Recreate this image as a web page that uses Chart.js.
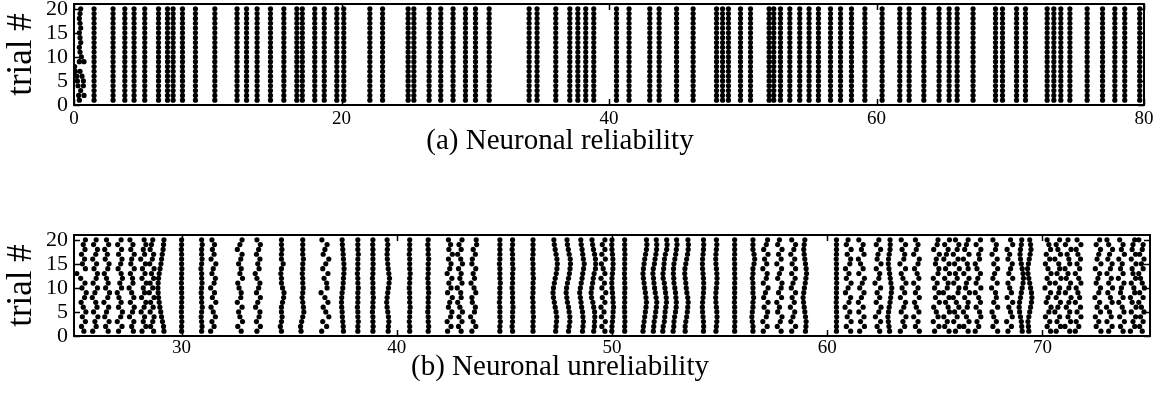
<!DOCTYPE html>
<html>
<head>
<meta charset="utf-8">
<script src="https://cdn.jsdelivr.net/npm/chart.js@4.4.1/dist/chart.umd.min.js"></script>
<style>
  html, body { margin: 0; padding: 0; background: #fff; }
  body { width: 1164px; height: 402px; position: relative; overflow: hidden; }
  canvas { position: absolute; left: 0; }
  #rasterA { top: 0; }
  #rasterB { top: 231px; }
  .caption { position: absolute; left: 0; width: 1120px; text-align: center; font-family: "Liberation Serif", serif; font-size: 29px; line-height: 1; color: #000; }
</style>
</head>
<body>
<canvas id="rasterA" width="1164" height="165"></canvas>
<canvas id="rasterB" width="1164" height="165"></canvas>
<div class="caption" style="top:125px">(a) Neuronal reliability</div>
<div class="caption" style="top:351px">(b) Neuronal unreliability</div>
<script>
const trials = [1, 2, 3, 4, 5, 6, 7, 8, 9, 10, 11, 12, 13, 14, 15, 16, 17, 18, 19, 20];
const trialTicks = [0, 5, 10, 15, 20];
const xTicksA = [0, 20, 40, 60, 80];
const xTicksB = [30, 40, 50, 60, 70];

// (a) spike times shared by every trial
const reliableTimes = [1.50, 2.92, 3.80, 4.49, 5.29, 6.32, 6.99, 7.41, 8.11, 9.08, 10.53, 12.19, 12.90,
  13.69, 14.69, 15.69, 16.66, 17.07, 18.00, 18.71, 19.65, 20.17, 22.12, 23.07, 24.98, 25.41, 26.55,
  27.42, 28.34, 29.27, 30.02, 31.04, 34.03, 34.62, 36.02, 37.07, 37.67, 38.26, 38.86, 40.56, 41.50,
  43.05, 43.75, 45.05, 46.29, 48.04, 48.49, 48.93, 49.83, 50.58, 51.97, 52.32, 52.82, 53.52, 54.26,
  54.96, 55.66, 56.56, 57.31, 58.13, 59.13, 60.42, 61.74, 62.44, 63.54, 64.68, 65.43, 66.03, 67.22,
  68.90, 69.42, 70.47, 71.14, 72.76, 73.26, 73.78, 74.46, 75.75, 76.90, 77.82, 78.56, 79.68];
// (a) first spike of each trial (trial 1..20), still scattered on the early trials
const onsetTimes = [0.40, 0.35, 0.50, 0.30, 0.25, 0.60, 0.45, 0.05, 0.40, 0.55,
  0.45, 0.40, 0.50, 0.45, 0.40, 0.50, 0.45, 0.40, 0.45, 0.50];
const onsetExtra = [null, 0.75, null, 0.70, 0.70, 0.20, 0.10, null, 0.75, null,
  null, null, null, null, null, null, null, null, null, null];

// (b) spike columns: centre time, then the shift of each trial (1..20) in 1/100 time units
const unreliableCenters = [25.43, 25.97, 26.51, 27.13, 27.68, 28.22, 28.6, 29.14, 30.0, 30.93, 31.47,
  32.71, 33.54, 34.64, 35.63, 36.66, 37.49, 38.19, 38.89, 39.58, 40.6, 41.46, 42.46, 42.93, 43.55,
  44.79, 45.38, 46.33, 47.34, 47.96, 48.58, 49.12, 49.59, 50.02, 50.59, 51.52, 51.99, 52.45, 52.92,
  53.46, 54.23, 54.85, 55.7, 56.55, 57.13, 57.78, 58.41, 58.96, 60.43, 60.97, 61.59, 62.36, 62.9,
  63.52, 64.14, 65.07, 65.54, 66.0, 66.47, 67.0, 67.78, 68.48, 69.02, 69.41, 70.26, 70.72, 71.19,
  71.65, 72.58, 73.12, 73.67, 74.21, 74.6];
const unreliableShifts = [
  [3, -8, 10, -4, 12, 0, -10, 6, 14, -6, 8, -12, -30, 10, -4, 6, -8, 8, 0, 10],
  [-10, 6, 0, 14, -6, 10, 4, -12, 0, 12, -8, 6, 12, -4, 8, -10, 4, 12, -6, 6],
  [8, -4, 12, -8, 0, 10, -12, 6, 14, -4, 8, 0, -10, 6, 12, -6, 4, -8, 10, 0],
  [-6, 10, -12, 4, 12, -6, 6, -4, -12, 8, 0, 12, 6, -8, 4, 10, -6, 8, -10, 6],
  [8, 0, 10, -10, 4, 12, -6, 10, 0, -12, 6, 4, -6, 12, -4, 0, 12, -4, 6, -8],
  [-6, 12, 0, 6, -10, 4, 12, -8, 6, 0, 14, -6, 8, -4, 10, -12, 6, 0, 12, 4],
  [10, -4, 6, 12, -6, 8, -4, 12, -10, 6, -6, 10, 0, 12, -8, 4, 10, -6, 0, 6],
  [4, 2, -3, -7, -11, -15, -18, -21, -23, -24, -23, -21, -18, -14, -10, -7, -4, 0, 2, 4],
  [0, 0, 1, 0, -1, 0, 0, 1, 0, 0, -1, 0, 0, 1, 0, 0, 0, -1, 0, 0],
  [0, 2, 0, -2, 0, 3, 0, 0, -2, 0, 2, 0, 0, -3, 0, 2, 0, 0, 3, 0],
  [-12, 4, -6, 10, 0, -10, 12, -4, 6, -12, 4, 10, -6, 0, 12, -10, 4, -4, 6, -6],
  [6, -10, 12, 0, -6, 10, -12, 4, 6, -4, -10, 12, 0, 6, -6, 4, 10, -12, 0, 10],
  [-4, 12, -6, 6, 10, -10, 0, 12, -6, 4, 10, -4, -12, 6, 0, 10, -6, 4, 12, -4],
  [0, -5, 0, 3, 0, 0, 5, 10, 12, 5, 0, 0, -3, 0, 8, 0, 0, 2, 0, 0],
  [-8, -10, -5, 0, 5, 3, 0, -3, 0, 2, 0, 0, -2, 0, 0, 3, 0, 0, 0, 0],
  [-15, 8, -10, 18, 4, -8, 14, 0, -18, 10, 8, -4, 14, -10, 4, 18, -8, 0, 10, -14],
  [3, 2, 0, -2, -3, -5, -6, -5, -3, 0, 2, 3, 5, 6, 5, 3, 2, 0, -2, -3],
  [0, 0, 2, 0, 0, -2, 0, 0, 0, 2, 0, 0, -2, 0, 0, 0, 2, 0, 0, 0],
  [0, 1, 0, 0, -2, 0, 0, 2, 0, 0, 0, -2, 0, 0, 1, 0, 0, 0, -1, 0],
  [2, 3, 5, 3, 0, -3, -5, -3, 0, 3, 6, 8, 5, 2, 0, -2, -3, -2, 0, -3],
  [0, 0, -2, 0, 0, 2, 0, 0, 0, -2, 0, 0, 2, 0, 0, 0, -2, 0, 0, 0],
  [0, 2, 0, 0, -2, 0, 0, 0, 2, 0, 0, -2, 0, 0, 0, 2, 0, 0, -2, 0],
  [-10, 6, -12, 4, 10, -6, 0, 12, -10, 6, -4, 10, -12, 0, 6, -6, 12, -4, 4, -6],
  [6, -6, 10, -4, 12, 0, -10, 6, 4, -12, 10, 0, 6, -6, 12, 4, -10, 6, -4, 10],
  [-6, 12, 0, -12, 6, 10, -4, -6, 12, 4, -10, 6, 0, 12, -6, -4, 10, 0, 16, 14],
  [0, 0, 2, 0, 0, 0, -2, 0, 0, 0, 2, 0, 0, 0, -2, 0, 0, 0, 0, 0],
  [0, -2, 0, 0, 0, 2, 0, 0, 0, -2, 0, 0, 0, 2, 0, 0, 0, -2, 0, 0],
  [0, 0, 0, 2, 0, 0, 0, -2, 0, 0, 0, 2, 0, 0, 0, -2, 0, 0, 0, 0],
  [4, 6, 8, 9, 6, 2, -2, -6, -8, -6, -2, 2, 7, 10, 12, 10, 6, 2, -2, -4],
  [2, 5, 8, 8, 5, 2, -3, -6, -9, -7, -3, 2, 6, 9, 11, 10, 5, 1, -3, -5],
  [5, 7, 9, 7, 5, 1, -2, -5, -8, -5, -1, 3, 6, 10, 13, 9, 6, 3, -1, -3],
  [3, 6, 7, 8, 7, 3, -1, -7, -9, -6, -2, 1, 5, 11, 12, 11, 7, 2, -2, -5],
  [8, -6, 10, -8, 4, -10, 8, -4, 12, -6, 6, -10, 8, 0, -8, 10, -6, 8, -4, 8],
  [-3, -2, 0, 2, 3, 5, 3, 2, 0, -2, -3, -2, 0, 2, 3, 2, 0, -2, -3, -2],
  [0, 0, 1, 0, 0, -1, 0, 0, 0, 1, 0, 0, -1, 0, 0, 0, 1, 0, 0, 0],
  [-8, -6, -3, 0, 3, 6, 8, 6, 3, 0, -3, -6, -8, -6, -3, 0, 4, 8, 10, 8],
  [-7, -5, -3, 1, 4, 7, 9, 6, 2, -1, -4, -6, -9, -7, -2, 1, 5, 8, 9, 7],
  [-9, -7, -2, 0, 2, 5, 8, 7, 4, 1, -2, -7, -8, -5, -3, -1, 3, 9, 11, 9],
  [-8, -5, -4, -1, 3, 6, 7, 5, 3, 0, -4, -5, -7, -6, -4, 0, 4, 7, 10, 8],
  [-6, -6, -3, 1, 4, 6, 8, 6, 2, -1, -3, -6, -8, -7, -3, 1, 5, 8, 9, 7],
  [2, 3, 2, 0, -2, -3, -2, 0, 2, 3, 3, 2, 0, -2, -3, -2, 0, 2, 3, 2],
  [-2, 0, 2, 3, 2, 0, -2, -3, -2, 0, 2, 3, 2, 0, -2, -3, -2, 0, 2, 0],
  [0, 0, 1, 0, 0, 0, -1, 0, 0, 0, 0, 1, 0, 0, 0, -1, 0, 0, 0, 0],
  [0, 0, -3, -5, -3, 0, 0, 3, 0, 0, 0, -3, 0, 0, 5, 8, 5, 0, 0, 0],
  [-10, 8, -12, 4, 10, -6, 12, -8, 0, 12, -10, 4, 8, -12, 6, -4, 12, -8, 4, 10],
  [8, -10, 4, 12, -8, 0, -12, 10, -4, 8, 12, -8, 0, 10, -12, 8, -4, 12, -8, 0],
  [-6, 12, -10, 0, 8, -12, 6, -4, 12, -8, 0, 10, -6, 12, -4, 8, -10, 4, 12, -6],
  [3, 5, 6, 3, 0, -3, -6, -8, -5, -2, 2, 5, 8, 6, 3, 0, -3, -5, -3, 0],
  [0, 0, 0, 1, 0, 0, -1, 0, 0, 0, 1, 0, 0, 0, 0, -1, 0, 0, 0, 0],
  [12, -8, 14, -4, 8, -14, 4, 12, -12, 0, 14, -8, 4, -12, 8, 12, -4, 14, -8, 0],
  [-8, 14, -4, 12, -12, 8, -14, 0, 12, -8, 4, 14, -12, 8, -4, -14, 12, 0, 8, -12],
  [8, -4, 12, -12, 4, 14, -8, 8, -4, 12, -14, 4, 8, -8, 14, -4, 0, 12, -8, 4],
  [0, -3, -6, -8, -5, -2, 2, 5, 8, 10, 6, 3, 0, -3, -6, -5, -2, 2, 3, 2],
  [-12, 8, 0, 14, -8, 4, 12, -12, 8, -4, 14, 0, -8, 12, -14, 4, 8, -4, 12, -8],
  [14, -4, 8, -12, 12, 0, -8, 14, -4, 8, -12, 12, 4, -8, 8, 14, -12, 0, 8, -4],
  [-8, 12, -14, 8, 0, -12, 14, -4, 12, -8, 4, -14, 8, 12, -4, 0, 14, -12, 4, 8],
  [12, -8, 4, -12, 14, 8, -4, 12, -14, 4, 8, -8, 14, -4, 12, -12, 0, 8, -8, 14],
  [-4, 14, -12, 4, -8, 12, 0, -14, 8, 12, -12, 4, -4, 14, -8, 8, -14, 4, 12, -4],
  [8, -12, 12, 0, -14, 4, 8, -8, 14, -4, 0, 12, -12, 8, 4, -14, 12, -8, 0, 8],
  [-12, 4, -4, 14, 8, -8, 12, 4, -12, 14, -8, 0, 12, -4, -12, 8, 4, 14, -8, 12],
  [14, -8, 8, -4, -12, 14, -4, 8, 4, -14, 12, -8, 0, 14, -4, 12, -12, 4, 8, -8],
  [-8, 8, -14, 12, 4, -4, 14, -12, 8, 0, -8, 14, -4, 4, 12, -8, 0, -12, 14, 4],
  [4, 2, 0, -4, -8, -10, -8, -4, 0, 4, 8, 10, 8, 4, 0, -4, -6, -4, 0, 2],
  [-4, -6, -8, -4, 0, 4, 8, 10, 8, 4, 0, -4, -8, -10, -6, -2, 2, 6, 4, 0],
  [12, -4, 8, -12, 4, 14, -8, 0, 12, -14, 8, -4, 14, 0, -12, 8, -8, 12, 4, -4],
  [-8, 12, -4, 8, -14, 0, 12, -8, 4, 8, -12, 14, -4, 8, 4, -14, 12, 0, -8, 8],
  [8, -14, 12, 0, 8, -8, 4, 14, -12, 4, 12, -8, 0, -14, 8, 4, -4, 14, -12, 0],
  [-12, 4, -8, 14, -4, 12, -12, 8, 0, -8, 14, 4, -12, 8, -4, 12, 0, -8, 14, -4],
  [14, -8, 4, -12, 12, -4, 8, -14, 4, 12, -8, 0, 8, -12, 14, -4, 4, 12, -8, 8],
  [-4, 12, -12, 8, 0, -14, 12, 4, -8, 14, -4, 8, -12, 4, 12, -8, 0, 14, -4, -12],
  [8, -4, 14, -8, 12, 4, -12, 8, -4, 0, 12, -14, 8, -4, 4, -12, 14, 0, 8, -8],
  [-12, 8, 0, 12, -8, 14, -4, -12, 8, 4, -8, 12, 0, -4, 14, -8, 12, -4, 0, 8],
  [4, -8, 8, -4, 12, 0, -12, 8, -8, 14, 4, -4, -12, 8, 0, 12, -8, 4, 8, -12]
];

const FONT = "Liberation Serif";

const pointsA = [];
reliableTimes.forEach(t => trials.forEach(k => pointsA.push({ x: t, y: k })));
onsetTimes.forEach((t, i) => pointsA.push({ x: t, y: trials[i] }));
onsetExtra.forEach((t, i) => { if (t !== null) pointsA.push({ x: t, y: trials[i] }); });

const pointsB = [];
unreliableCenters.forEach((c, j) => {
  unreliableShifts[j].forEach((d, i) => pointsB.push({ x: c + d / 100, y: trials[i] }));
});

// frame and inward ticks, grace style
const framePlugin = {
  id: 'frame',
  afterDatasetsDraw(chart) {
    const { ctx, chartArea: a, scales: { x, y } } = chart;
    ctx.save();
    ctx.strokeStyle = '#000';
    ctx.lineWidth = 1.5;
    ctx.beginPath();
    x.ticks.forEach(t => {
      const px = Math.round(x.getPixelForValue(t.value)) + 0.5;
      ctx.moveTo(px, a.bottom); ctx.lineTo(px, a.bottom - 6);
      ctx.moveTo(px, a.top); ctx.lineTo(px, a.top + 6);
    });
    y.ticks.forEach(t => {
      const py = Math.round(y.getPixelForValue(t.value)) + 0.5;
      ctx.moveTo(a.left, py); ctx.lineTo(a.left + 6, py);
      ctx.moveTo(a.right, py); ctx.lineTo(a.right - 6, py);
    });
    ctx.stroke();
    ctx.lineWidth = 2;
    ctx.strokeRect(a.left, a.top, a.right - a.left, a.bottom - a.top);
    ctx.restore();
  }
};

// keep the plot box fixed: no extra room for half tick labels
const noLabelPadding = s => {
  s.paddingTop = 0; s.paddingBottom = 0; s.paddingLeft = 0; s.paddingRight = 0;
};

function rasterChart(id, points, xMin, xMax, xTicks, padRight, labelPad) {
  return new Chart(document.getElementById(id), {
    type: 'scatter',
    data: {
      datasets: [{
        data: points,
        pointRadius: 2.6,
        pointHoverRadius: 2.6,
        pointBackgroundColor: '#000',
        pointBorderWidth: 0
      }]
    },
    options: {
      responsive: false,
      animation: false,
      events: [],
      layout: { padding: { left: 0, right: padRight, top: 4, bottom: 4 } },
      plugins: { legend: { display: false }, tooltip: { enabled: false } },
      scales: {
        x: {
          type: 'linear', min: xMin, max: xMax,
          grid: { display: false, drawTicks: false },
          border: { display: false },
          ticks: { color: '#000', padding: labelPad, maxRotation: 0, autoSkip: false, font: { family: FONT, size: 19 } },
          afterBuildTicks: s => { s.ticks = xTicks.map(v => ({ value: v })); },
          afterFit: s => { s.height = 56; noLabelPadding(s); }
        },
        y: {
          type: 'linear', min: 0, max: 21,
          grid: { display: false, drawTicks: false },
          border: { display: false },
          ticks: { color: '#000', padding: 6, autoSkip: false, font: { family: FONT, size: 22 } },
          afterBuildTicks: s => { s.ticks = trialTicks.map(v => ({ value: v })); },
          title: { display: true, text: 'trial #', color: '#000', padding: { top: 1, bottom: 0 }, font: { family: FONT, size: 35 } },
          afterFit: s => { s.width = 74; noLabelPadding(s); }
        }
      }
    },
    plugins: [framePlugin]
  });
}

rasterChart('rasterA', pointsA, 0, 80, xTicksA, 20, 3);
rasterChart('rasterB', pointsB, 25, 75, xTicksB, 14, 1);
</script>
</body>
</html>
